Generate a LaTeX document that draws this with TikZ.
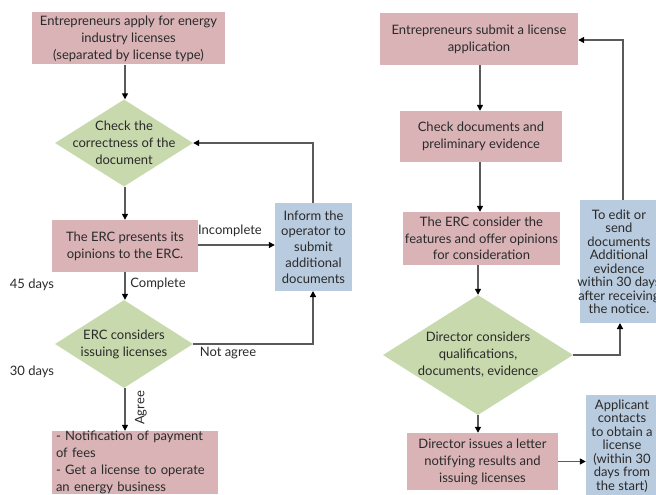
\documentclass[tikz,border=0pt]{standalone}
\usepackage{fontspec}
\setmainfont{Lato}
\usetikzlibrary{shapes.geometric,arrows.meta}
\definecolor{pinkbox}{HTML}{D9B3B6}
\definecolor{greenbox}{HTML}{C8D9AD}
\definecolor{bluebox}{HTML}{B9CBDF}
\definecolor{linegray}{HTML}{5A5A5A}
\definecolor{txt}{HTML}{2A2A2A}
\tikzset{
  every node/.style={font=\fontsize{13}{17}\selectfont, text=txt},
  pbox/.style={fill=pinkbox, draw=none, align=center, inner sep=0pt},
  bbox/.style={fill=bluebox, draw=none, align=center, inner sep=0pt},
  tight/.style={font=\fontsize{13}{13.5}\selectfont},
  dshape/.style={diamond, fill=greenbox, draw=none, inner sep=0pt, aspect=1.6},
  lbl/.style={inner sep=1pt},
  conn/.style={draw=linegray, line width=1.3pt, -{Triangle[length=6pt,width=6pt,color=black]}},
}
\begin{document}
\begin{tikzpicture}[x=1pt,y=-1pt]
\useasboundingbox (0,0) rectangle (656,495);
% left column
\node[pbox, minimum width=193pt, minimum height=52pt] (A) at (128.5,38.5) {Entrepreneurs apply for energy\\industry licenses\\(separated by license type)};
\node[dshape, minimum width=138pt, minimum height=87pt] (d1) at (124,143) {};
\node[align=center] (d1t) at (d1.center) {Check the\\correctness of the\\document};
\node[pbox, minimum width=146pt, minimum height=52pt] (B) at (125,246) {The ERC presents its\\opinions to the ERC.};
\node[bbox, minimum width=77pt, minimum height=88pt, font=\fontsize{13}{15.8}\selectfont] (inf) at (313.5,247) {Inform the\\operator to\\submit\\additional\\documents};
\node[dshape, minimum width=138pt, minimum height=88pt] (d2) at (124,344) {};
\node[align=center] (d2t) at (d2.center) {ERC considers\\issuing licenses};
\node[pbox, minimum width=166pt, minimum height=61pt, align=left, text width=158pt] (C) at (135,462.5) {- Notification of payment\\of fees\\- Get a license to operate\\an energy business};
\node[lbl] (l45) at (32,285) {45 days};
\node[lbl] (l30) at (32,372) {30 days};
\coordinate (ax) at (125,0);
\coordinate (inftop) at (313,203);
\coordinate (infbot) at (313,291);
\coordinate (c1) at (313,143);
\coordinate (c2) at (313,344);
\coordinate (bx) at (0,245);
\draw[conn] (A.south -| ax) -- (d1.north -| ax);
\draw[conn] (d1.south -| ax) -- (B.north -| ax);
\draw[conn] (B.east |- bx) -- (inf.west |- bx);
\node[lbl] (linc) at (230,231) {Incomplete};
\draw[conn] (inftop) -- (c1) -- (d1.east);
\draw[conn] (B.south -| ax) -- (d2.north -| ax);
\node[lbl] (lcomp) at (158,284) {Complete};
\draw[conn] (d2.east) -- (c2) -- (infbot);
\node[lbl] (lna) at (228,353) {Not agree};
\draw[conn] (d2.south -| ax) -- (C.north -| ax);
\node[lbl, rotate=90] (lag) at (141,408) {Agree};
% right column
\node[pbox, minimum width=198pt, minimum height=52pt] (D) at (479,39) {Entrepreneurs submit a license\\application};
\node[pbox, minimum width=162pt, minimum height=51pt] (E) at (481,136.5) {Check documents and\\preliminary evidence};
\node[pbox, minimum width=157pt, minimum height=53pt, font=\fontsize{13}{16.5}\selectfont] (F) at (481.5,238.5) {The ERC consider the\\features and offer opinions\\for consideration};
\node[dshape, minimum width=190pt, minimum height=120pt] (d3) at (478,355) {};
\node[align=center] (d3t) at (d3.center) {Director considers\\qualifications,\\documents, evidence};
\node[bbox, minimum width=80pt, minimum height=123pt] (G) at (620,261.5) {};
\node[align=center, tight, inner sep=0pt] (Gt) at (619,262) {To edit or\\send\\documents\\Additional\\evidence\\within 30 days\\after receiving\\the notice.};
\node[bbox, minimum width=74pt, minimum height=102pt] (H) at (623,446) {};
\node[align=center, tight, inner sep=0pt] (Ht) at (622,446) {Applicant\\contacts\\to obtain a\\license\\(within 30\\days from\\the start)};
\node[pbox, minimum width=151pt, minimum height=57pt] (I) at (482.5,461.5) {Director issues a letter\\notifying results and\\issuing licenses};
\coordinate (rx) at (480,0);
\coordinate (rx2) at (478,0);
\coordinate (gtop) at (623,200);
\coordinate (gbot) at (620,323);
\coordinate (c3) at (623,40);
\coordinate (c4) at (620,355);
\draw[conn] (D.south -| rx) -- (E.north -| rx);
\draw[conn] (E.south -| rx) -- (F.north -| rx);
\draw[conn] (F.south -| rx2) -- (d3.north);
\draw[conn] (d3.south) -- (I.north -| rx2);
\draw[conn] (d3.east) -- (c4) -- (gbot);
\draw[conn] (gtop) -- (c3) -- (D.east |- c3);
\draw[conn] (I.east) -- (H.west |- I.east);
\end{tikzpicture}
\end{document}
